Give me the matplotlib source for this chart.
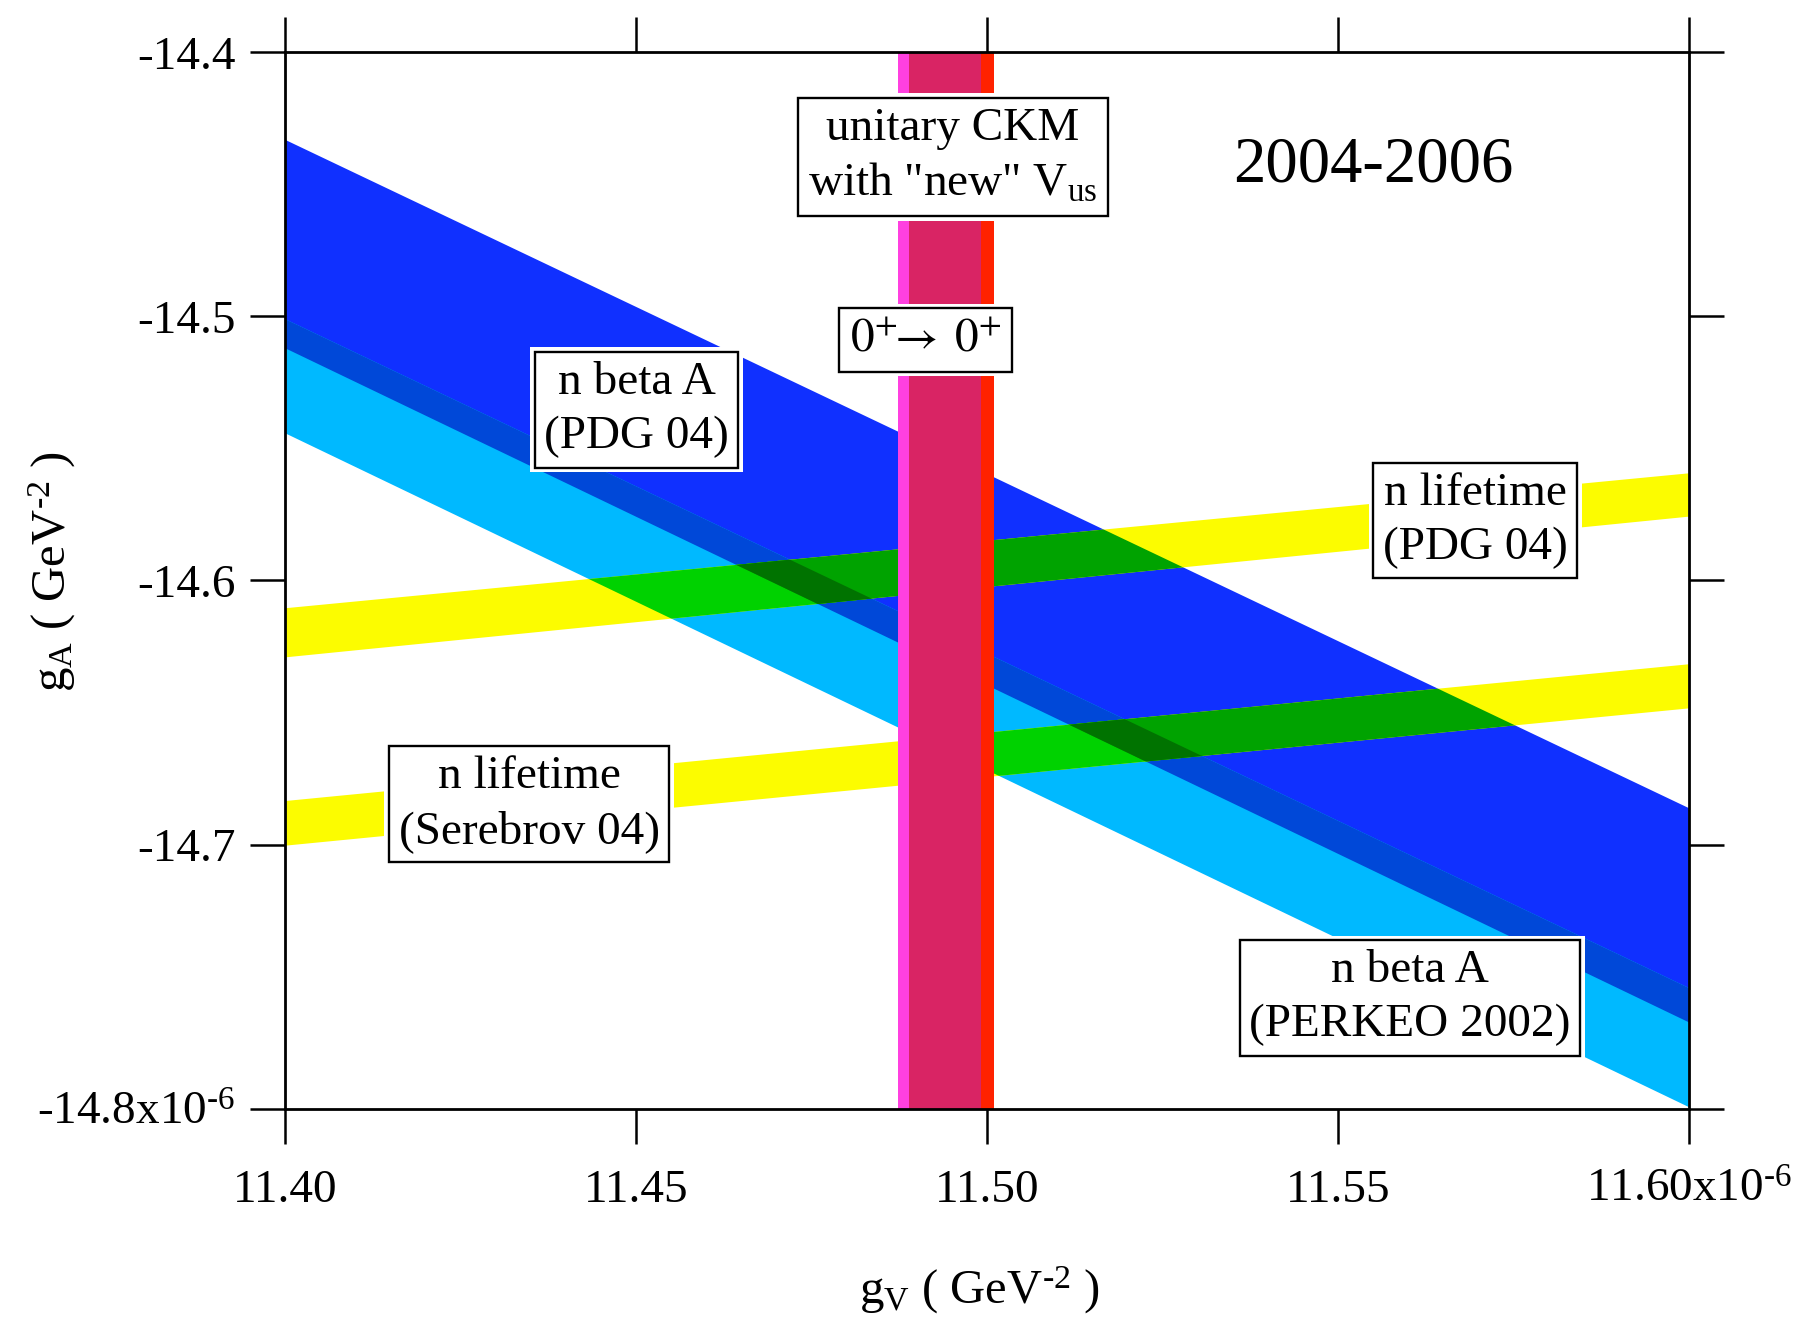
import numpy as np
import matplotlib
matplotlib.use('Agg')
import matplotlib.pyplot as plt
from matplotlib.patches import Polygon

plt.rcParams['font.family'] = ['Liberation Serif', 'DejaVu Serif']
plt.rcParams['mathtext.fontset'] = 'custom'
plt.rcParams['mathtext.rm'] = 'Liberation Serif'
plt.rcParams['mathtext.it'] = 'Liberation Serif:italic'
plt.rcParams['mathtext.bf'] = 'Liberation Serif:bold'

# gV at the two ends of the plotted range (units of 1e-6 GeV^-2)
gv_ends = [11.40, 11.60]

# band edges: gA (1e-6 GeV^-2) read at gV = 11.40 and gV = 11.60
pdg_a_upper = [-14.4332, -14.6863]     # n beta A (PDG 04)
pdg_a_lower = [-14.5121, -14.7674]
perkeo_upper = [-14.5011, -14.7544]    # n beta A (PERKEO 2002)
perkeo_lower = [-14.5443, -14.7995]
tau_pdg_upper = [-14.6105, -14.5594]   # n lifetime (PDG 04)
tau_pdg_lower = [-14.6291, -14.5758]
tau_ser_upper = [-14.6835, -14.6317]   # n lifetime (Serebrov 04)
tau_ser_lower = [-14.7004, -14.6484]

# vertical bands in gV
ckm_band = [11.4872, 11.4991]          # unitary CKM with "new" Vus
superallowed_band = [11.4888, 11.5009]  # 0+ -> 0+

xticks = [11.40, 11.45, 11.50, 11.55, 11.60]
xtick_labels = ['11.40', '11.45', '11.50', '11.55', r'11.60x10$^{\text{-}6}$']
yticks = [-14.8, -14.7, -14.6, -14.5, -14.4]
ytick_labels = [r'-14.8x10$^{\text{-}6}$', '-14.7', '-14.6', '-14.5', '-14.4']


fig = plt.figure(figsize=(18, 13.22), dpi=100)
ax = fig.add_axes([0.1586, 0.16135, 0.78, 0.7991])


def band(upper, lower):
    return [(gv_ends[0], upper[0]), (gv_ends[1], upper[1]),
            (gv_ends[1], lower[1]), (gv_ends[0], lower[0])]


def fill(verts, color, z, clip=None):
    p = Polygon(verts, closed=True, fc=color, ec='none', zorder=z)
    ax.add_patch(p)
    if clip is not None:
        p.set_clip_path(Polygon(clip, closed=True, transform=ax.transData))
    return p


blue = band(pdg_a_upper, pdg_a_lower)
cyan = band(perkeo_upper, perkeo_lower)
# blue and cyan edges do not cross inside the range, so the overlap is a band too
both_a = band(np.minimum(pdg_a_upper, perkeo_upper),
              np.maximum(pdg_a_lower, perkeo_lower))

fill(blue, '#1030ff', 1)
fill(cyan, '#00b9ff', 1)
fill(both_a, '#0048d8', 2)

for up, lo in [(tau_pdg_upper, tau_pdg_lower), (tau_ser_upper, tau_ser_lower)]:
    tau = band(up, lo)
    fill(tau, '#fcfc00', 3)
    fill(tau, '#00d200', 4, clip=cyan)
    fill(tau, '#00a300', 5, clip=blue)
    fill(tau, '#007300', 6, clip=both_a)

ax.axvspan(ckm_band[0], ckm_band[1], color='#ff40e0', lw=0, zorder=7)
ax.axvspan(superallowed_band[0], superallowed_band[1], color='#ff2200', lw=0, zorder=7)
ax.axvspan(max(ckm_band[0], superallowed_band[0]), min(ckm_band[1], superallowed_band[1]),
           color='#d92464', lw=0, zorder=8)


def label(x, y, s, size=34, pad=0.2, **extra):
    kw = dict(ha='center', va='center', fontsize=size, linespacing=1.36,
              multialignment='center', zorder=10, **extra)
    ax.text(x, y, s, color='none',
            bbox=dict(boxstyle=f'square,pad={pad + 0.1}', fc='white', ec='none'), **kw)
    ax.text(x, y, s,
            bbox=dict(boxstyle=f'square,pad={pad}', fc='white', ec='black', lw=1.7), **kw)


label(11.4951, -14.4396, 'unitary CKM\nwith "new" V$_{\\rm us}$', pad=0.22)
label(11.4912, -14.5089, r'$0^{+}\!\!\rightarrow\;0^{+}$', pad=0.22, math_fontfamily='stix')
label(11.4500, -14.5354, 'n beta A\n(PDG 04)')
label(11.5695, -14.5773, 'n lifetime\n(PDG 04)')
label(11.4347, -14.6846, 'n lifetime\n(Serebrov 04)')
label(11.5602, -14.7581, 'n beta A\n(PERKEO 2002)')
ax.text(11.5550, -14.4429, '2004-2006', ha='center', va='center', fontsize=46.5, zorder=10)

ax.set_xlim(gv_ends)
ax.set_ylim(-14.8, -14.4)
ax.set_xticks(xticks)
ax.set_xticklabels(xtick_labels)
ax.set_yticks(yticks)
ax.set_yticklabels(ytick_labels)
ax.tick_params(direction='out', length=25, width=1.8, top=True, right=True,
               labelsize=34)
ax.tick_params(axis='x', pad=42)
ax.tick_params(axis='y', pad=11)
plt.setp(ax.get_xticklabels(), va='baseline')
for s in ax.spines.values():
    s.set_linewidth(2)
    s.set_zorder(12)

fig.text(0.5442, 0.0139, 'g$_{\\rm V}$ ( GeV$^{\\text{-}2}$ )', ha='center', va='baseline',
         fontsize=35)
fig.text(0.029, 0.568, 'g$_{\\rm A}$ ( GeV$^{\\text{-}2}$ )', ha='center', va='center',
         rotation=90, fontsize=35)

fig.savefig('out.png', dpi=100)
